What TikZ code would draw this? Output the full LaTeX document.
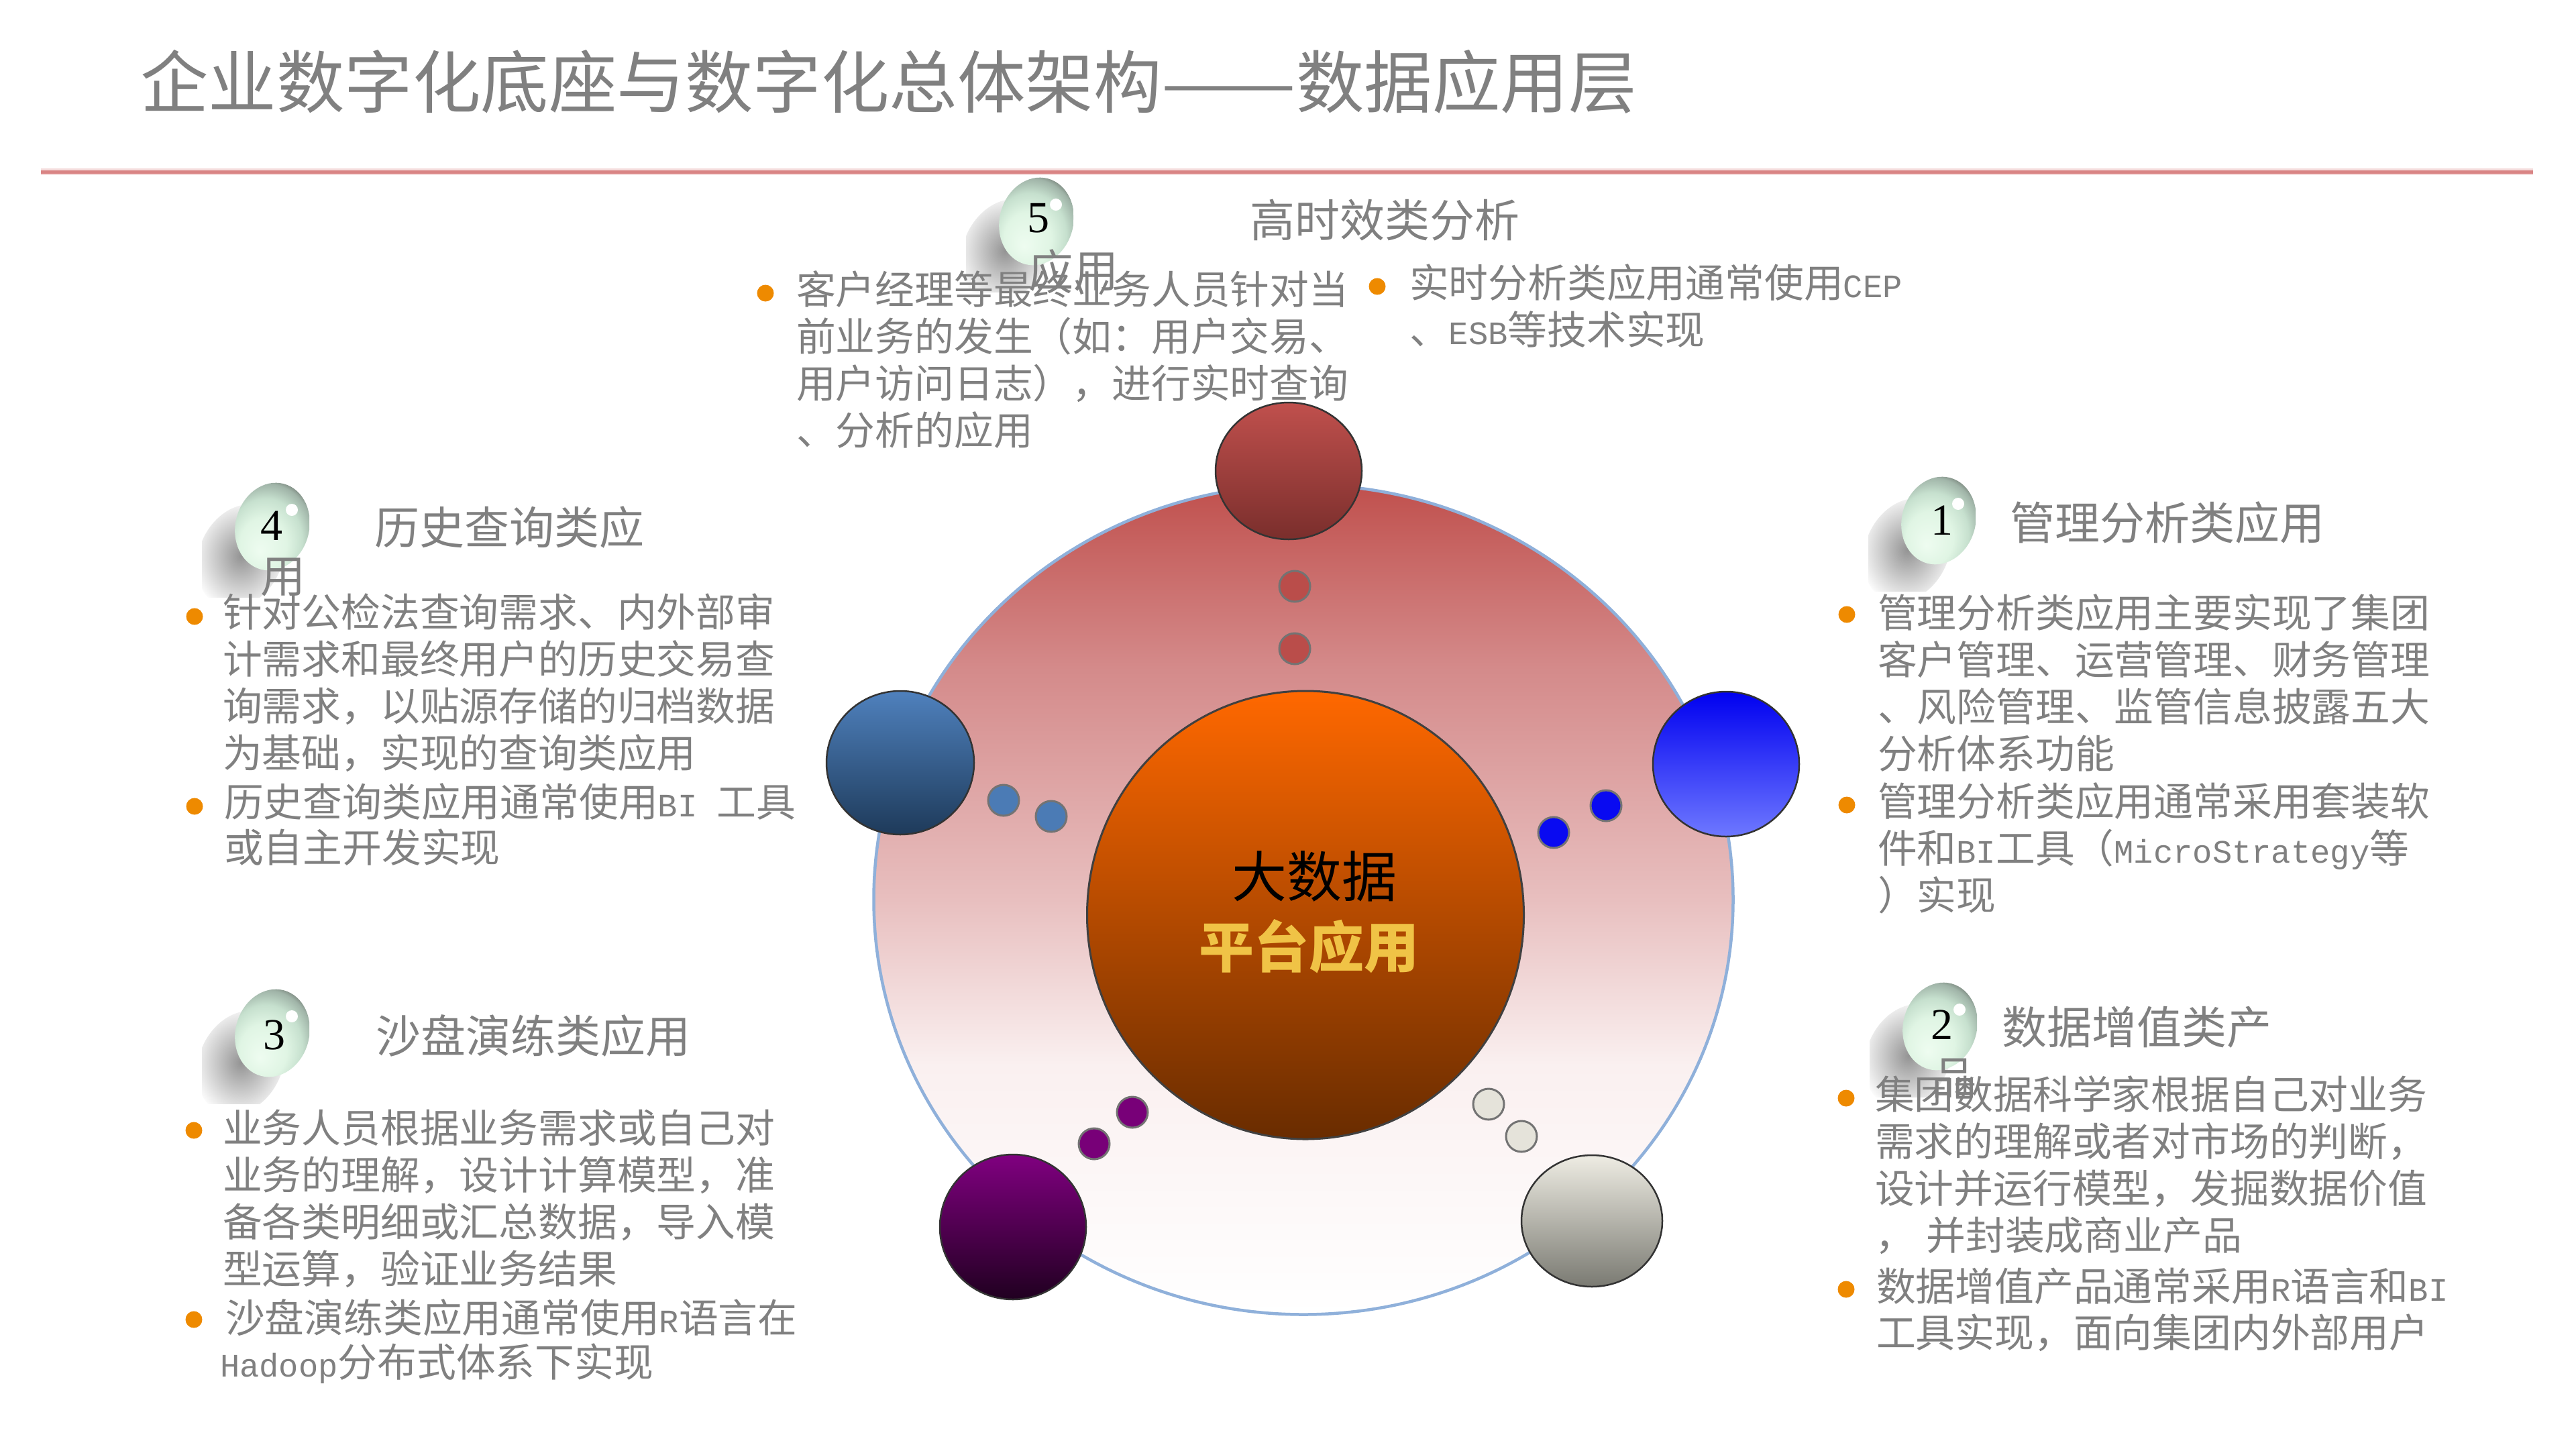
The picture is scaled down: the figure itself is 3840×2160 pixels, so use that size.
\documentclass[tikz,border=0pt]{standalone}
\usepackage{fontspec}
\usetikzlibrary{shapes.geometric}
\setmainfont{Noto Sans CJK SC}
\newfontfamily\numfont{Liberation Serif}
\newfontfamily\latinf[Scale=0.83]{Liberation Mono}
\newcommand{\la}[1]{{\latinf #1}}
\definecolor{txtgray}{HTML}{808080}
\definecolor{bulorange}{HTML}{EE8A00}
\definecolor{ringblue}{HTML}{8FB0DA}
\definecolor{ruleedge}{HTML}{F5DDDD}
\definecolor{rulecore}{HTML}{D98484}
\definecolor{ringa}{HTML}{C0504D}
\definecolor{ringb}{HTML}{D48A8A}
\definecolor{ringc}{HTML}{E8BFBF}
\definecolor{ringd}{HTML}{FAF0F0}
\definecolor{glassa}{HTML}{EEFCF0}
\definecolor{glassb}{HTML}{E0F5E4}
\definecolor{glassc}{HTML}{C6E0CE}
\definecolor{glassd}{HTML}{A0B4A8}
\definecolor{glasse}{HTML}{60665F}
\definecolor{glassf}{HTML}{3A3A3A}
\pgfdeclareverticalshading{ringshade}{100bp}{
  color(0bp)=(white);
  color(25bp)=(white);
  color(40bp)=(ringd);
  color(50bp)=(ringc);
  color(64bp)=(ringb);
  color(75bp)=(ringa);
  color(100bp)=(ringa)}
\pgfdeclareradialshading{dropglass}{\pgfpoint{-7.5bp}{-13bp}}{
  color(0bp)=(glassa);
  color(14bp)=(glassb);
  color(22bp)=(glassc);
  color(28bp)=(glassd);
  color(32bp)=(glasse);
  color(35bp)=(glassf);
  color(50bp)=(glassf)}
\tikzset{
  ball/.style={ellipse, draw=black!80, line width=0.5pt, inner sep=0pt},
  dot/.style={circle, draw=black!55, line width=0.6pt, inner sep=0pt, minimum size=9.2pt},
  bul/.style={circle, fill=bulorange, inner sep=0pt, minimum size=5pt},
  num/.style={font=\numfont\fontsize{13.2pt}{15pt}\selectfont, text=black, inner sep=0pt},
  head/.style={font=\fontsize{13.4pt}{15.6pt}\selectfont, text=txtgray, inner sep=0pt, anchor=north west, align=left},
  body/.style={font=\fontsize{11.76pt}{14pt}\selectfont, text=txtgray, inner sep=0pt, anchor=north west, align=left},
  glassdrop/.pic={
    \begin{scope}
      \clip (0,0) rectangle (160,173);
      \shade[inner color=black!42, outer color=white] (58,112) ellipse [x radius=62, y radius=80, rotate=-25];
      \path[shading=dropglass] (105,68) ellipse [x radius=55, y radius=66, rotate=-15];
      \fill[white] (134,43) ellipse [x radius=9, y radius=9];
    \end{scope}
  }
}
\begin{document}
\begin{tikzpicture}[x=0.2pt,y=-0.2pt]
  \useasboundingbox (0,0) rectangle (3840,2160);
  % title and rule
  \node (title) [anchor=west, inner sep=0pt, text=txtgray, font=\fontsize{20.3pt}{24pt}\selectfont] at (208,122) {企业数字化底座与数字化总体架构\scalebox{1.18}[1]{——}数据应用层};
  \coordinate (ruleL) at (61,256);
  \coordinate (ruleR) at (3776,256);
  \draw[line width=2pt, color=ruleedge] (ruleL) -- (ruleR);
  \draw[line width=1pt, color=rulecore] (ruleL) -- (ruleR);
  % big ring and centre
  \node (ring) [ellipse, draw=ringblue, line width=0.9pt, minimum width=256.2pt, minimum height=247.4pt, shading=ringshade, inner sep=0pt] at (1943,1341) {};
  \node (core) [ellipse, draw=black!75, line width=0.6pt, minimum width=130.2pt, minimum height=133.6pt, top color={rgb,255:red,255;green,104;blue,0}, middle color={rgb,255:red,224;green,92;blue,0}, bottom color={rgb,255:red,105;green,44;blue,0}, inner sep=0pt] at (1946,1364) {};
  \node (core1) [font=\fontsize{16.4pt}{20pt}\selectfont, text=black, inner sep=0pt] at (1959,1306) {大数据};
  \node (core2) [font=\bfseries\fontsize{16.4pt}{20pt}\selectfont, text={rgb,255:red,240;green,195;blue,70}, inner sep=0pt] at (1951,1411) {平台应用};
  % satellites, each with two small dots
  \foreach \nm/\cx/\cy/\bw/\bh/\ct/\cb/\ax/\ay/\bx/\by in {
    red/1921/702/43.6/40.8/C0504D/7A2E2C/1930/874/1930/967,
    steel/1342/1137/44/42.8/4F81BD/1E3A5A/1496/1193/1567/1217,
    blue/2573/1139/43.6/43.2/0000F0/6E78FF/2394/1201/2316/1241,
    purple/1510/1829/43.6/43.2/800080/200020/1688/1658/1631/1705,
    grey/2373/1820/42/39.2/EEECE3/7A7A72/2219/1646/2268/1694} {
      \definecolor{ctop}{HTML}{\ct}
      \definecolor{cbot}{HTML}{\cb}
      \node (ball\nm) [ball, minimum width=\bw pt, minimum height=\bh pt, top color=ctop, bottom color=cbot] at (\cx,\cy) {};
      \node (dot\nm a) [dot, fill=ctop!92!cbot] at (\ax,\ay) {};
      \node (dot\nm b) [dot, fill=ctop!92!cbot] at (\bx,\by) {};
  }
  % droplets behind the numbers
  \foreach \n/\dx/\dy in {1/2785/708, 2/2787/1462, 3/301/1472, 4/301/717, 5/1440/262} {
    \pic (drop\n) at (\dx,\dy) {glassdrop};
  }
  % numbers
  \foreach \n/\dx/\dy in {1/2895/776, 2/2895/1528, 3/409/1543, 4/405/784, 5/1548/325} {
    \node (num\n) [num] at (\dx,\dy) {\n};
  }
  % headings
  \node (head1) [head] at (2995,747) {管理分析类应用};
  \node (head2) [head] at (2983,1499) {数据增值类产};
  \node (tail2) [head] at (2878,1577) {品};
  \node (head3) [head] at (559,1512) {沙盘演练类应用};
  \node (head4) [head] at (557,754) {历史查询类应};
  \node (tail4) [head] at (387,831) {用};
  \node (head5) [head] at (1862,296) {高时效类分析};
  \node (tail5) [head] at (1532,371) {应用};
  % bullets
  \foreach \n/\dx/\dy in {1a/2753/916, 1b/2753/1200, 2a/2752/1637, 2b/2752/1922, 3a/289/1685, 3b/289/1967, 4a/290/919, 4b/290/1202, 5a/1141/437, 5b/2053/427} {
    \node (bul\n) [bul] at (\dx,\dy) {};
  }
  % body text
  \node (text1a) [body] at (2798,885) {管理分析类应用主要实现了集团\\客户管理、运营管理、财务管理\\、风险管理、监管信息披露五大\\分析体系功能};
  \node (text1b) [body] at (2798,1166) {管理分析类应用通常采用套装软\\件和\la{BI}工具（\la{MicroStrategy}等\\）实现};
  \node (text2a) [body] at (2794,1603) {集团数据科学家根据自己对业务\\需求的理解或者对市场的判断，\\设计并运行模型，发掘数据价值\\，\hspace{0.3em}并封装成商业产品};
  \node (text2b) [body] at (2796,1889) {数据增值产品通常采用\la{R}语言和\la{BI}\\[-0.3pt]工具实现，面向集团内外部用户};
  \node (text3a) [body] at (331,1653) {业务人员根据业务需求或自己对\\业务的理解，设计计算模型，准\\备各类明细或汇总数据，导入模\\型运算，验证业务结果};
  \node (text3b) [body] at (327,1935) {\hspace*{1.6pt}沙盘演练类应用通常使用\la{R}语言在\\[-0.7pt]\la{Hadoop}分布式体系下实现};
  \node (text4a) [body] at (331,884) {针对公检法查询需求、内外部审\\计需求和最终用户的历史交易查\\询需求，以贴源存储的归档数据\\为基础，实现的查询类应用};
  \node (text4b) [body] at (333,1167) {历史查询类应用通常使用\la{BI }工具\\[-0.5pt]或自主开发实现};
  \node (text5a) [body] at (1186,403) {客户经理等最终业务人员针对当\\前业务的发生（如：用户交易、\\用户访问日志），进行实时查询\\、分析的应用};
  \node (text5b) [body] at (2100,393) {实时分析类应用通常使用\la{CEP}\\、\la{ESB}等技术实现};
\end{tikzpicture}
\end{document}
